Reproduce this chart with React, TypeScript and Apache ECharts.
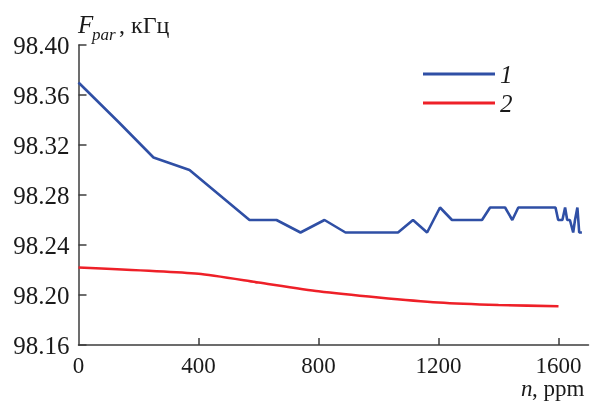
import React, { useEffect, useRef } from "react";
import * as echarts from "echarts";

const blueX = [0, 135, 250, 370, 570, 660, 740, 820, 890, 1065, 1115, 1162, 1205, 1245, 1345, 1372, 1422, 1446, 1466, 1590, 1599, 1613, 1622, 1629, 1638, 1649, 1655, 1663, 1669, 1678];
const blueY = [98.37, 98.338, 98.31, 98.3, 98.26, 98.26, 98.25, 98.26, 98.25, 98.25, 98.26, 98.25, 98.27, 98.26, 98.26, 98.27, 98.27, 98.26, 98.27, 98.27, 98.26, 98.26, 98.27, 98.26, 98.26, 98.25, 98.26, 98.27, 98.25, 98.25];
const redX = [0, 400, 600, 800, 1000, 1200, 1400, 1600];
const redY = [98.222, 98.217, 98.21, 98.203, 98.198, 98.194, 98.192, 98.191];
const seriesNames = ["1", "2"];
const xTicks = [0, 400, 800, 1200, 1600];

const SERIF = "Liberation Serif";
const AXIS = "#3c3c3c";
const INK = "#1a1a1a";

export default function App() {
  const ref = useRef<HTMLDivElement>(null);
  useEffect(() => {
    const chart = echarts.init(ref.current!, null, { renderer: "svg" });
    chart.setOption({
      animation: false,
      grid: { left: 78.5, right: 1.5, top: 45, bottom: 57 },
      legend: {
        orient: "vertical",
        left: 423,
        top: 61,
        padding: 0,
        icon: "rect",
        itemWidth: 72,
        itemHeight: 3,
        itemGap: 3,
        data: seriesNames,
        textStyle: { fontFamily: SERIF, fontStyle: "italic", fontSize: 25, lineHeight: 26, color: INK },
      },
      xAxis: {
        type: "value",
        min: 0,
        max: 1700,
        interval: 400,
        splitLine: { show: false },
        axisLine: { lineStyle: { color: AXIS, width: 1.5 } },
        axisTick: { inside: true, length: 7, lineStyle: { color: AXIS, width: 1.5 }, customValues: [400, 800, 1200, 1600] },
        axisLabel: {
          customValues: xTicks,
          margin: 9,
          fontFamily: SERIF,
          fontSize: 23,
          color: INK,
          formatter: (v: number) => String(v),
        },
      },
      yAxis: {
        type: "value",
        min: 98.16,
        max: 98.4,
        interval: 0.04,
        splitLine: { show: false },
        axisLine: { show: true, lineStyle: { color: AXIS, width: 1.5 } },
        axisTick: { show: true, inside: true, length: 8, lineStyle: { color: AXIS, width: 1.5 } },
        axisLabel: {
          margin: 9,
          fontFamily: SERIF,
          fontSize: 25,
          color: INK,
          formatter: (v: number) => v.toFixed(2),
        },
      },
      series: [
        {
          name: seriesNames[0],
          type: "line",
          symbol: "none",
          data: blueX.map((x, i) => [x, blueY[i]]),
          lineStyle: { color: "#2f4fa5", width: 2.6 },
          itemStyle: { color: "#2f4fa5" },
        },
        {
          name: seriesNames[1],
          type: "line",
          symbol: "none",
          smooth: 0.2,
          data: redX.map((x, i) => [x, redY[i]]),
          lineStyle: { color: "#ee2028", width: 2.6 },
          itemStyle: { color: "#ee2028" },
        },
      ],
      graphic: [
        { type: "text", x: 78, y: 12, style: { text: "F", fontFamily: SERIF, fontStyle: "italic", fontSize: 25, fill: INK } },
        { type: "text", x: 92, y: 26, style: { text: "par", fontFamily: SERIF, fontStyle: "italic", fontSize: 17, fill: INK } },
        { type: "text", x: 119, y: 13, style: { text: ", кГц", fontFamily: SERIF, fontSize: 24, fill: INK } },
        { type: "text", x: 521, y: 377, style: { text: "n", fontFamily: SERIF, fontStyle: "italic", fontSize: 23, fill: INK } },
        { type: "text", x: 532, y: 377, style: { text: ", ppm", fontFamily: SERIF, fontSize: 23, fill: INK } },
      ],
    });
    return () => chart.dispose();
  }, []);
  return <div ref={ref} style={{ position: "fixed", left: 0, top: 0, width: 590, height: 402 }} />;
}
